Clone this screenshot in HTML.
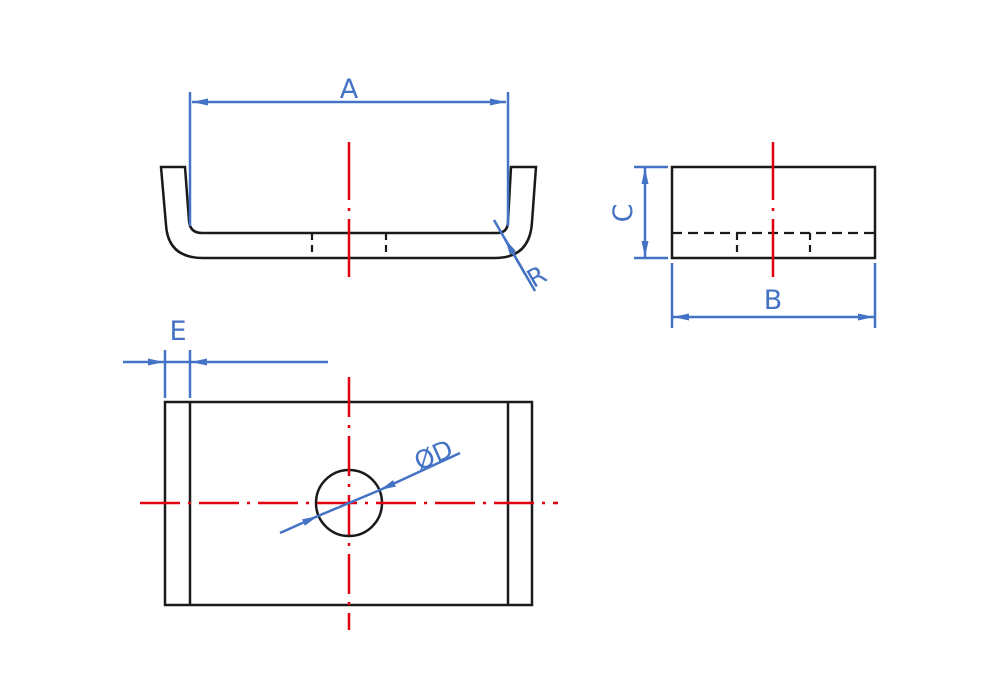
<!DOCTYPE html>
<html><head><meta charset="utf-8"><style>html,body{margin:0;padding:0;background:#fff}svg{display:block}text{font-family:"DejaVu Sans","Liberation Sans",sans-serif;font-weight:normal;fill:#4472c4}</style></head>
<body>
<svg width="1000" height="700" viewBox="0 0 1000 700" xmlns="http://www.w3.org/2000/svg">
<defs>
<marker id="ar" viewBox="0 0 16 8" refX="16" refY="4" markerWidth="16" markerHeight="8" markerUnits="userSpaceOnUse" orient="auto"><path d="M0,0.5 L16,4 L0,7.5 Z" fill="#4472c4"/></marker>
</defs>
<g fill="none" stroke="#1a1a1a" stroke-width="2.5">
<path d="M161,167 L185,167 L189,221 Q190,233 202,233 L497,233 Q508,233 508,221 L511,167 L536,167 L532,222 Q530,258 495,258 L203,258 Q168,258 166,225 Z"/>
<rect x="672" y="167" width="203" height="91"/>
<rect x="165" y="402" width="367" height="203"/>
<line x1="190" y1="402" x2="190" y2="605"/>
<line x1="508" y1="402" x2="508" y2="605"/>
<circle cx="349" cy="503" r="33"/>
</g>
<g stroke="#1a1a1a" stroke-width="2.2" stroke-dasharray="7,5" fill="none">
<line x1="312" y1="233" x2="312" y2="258"/>
<line x1="386" y1="233" x2="386" y2="258"/>
<line x1="672" y1="233" x2="875" y2="233" stroke-dasharray="10,6"/>
<line x1="737" y1="233" x2="737" y2="258"/>
<line x1="810" y1="233" x2="810" y2="258"/>
</g>
<g stroke="#e0000f" stroke-width="2.5" fill="none">
<line x1="349" y1="142" x2="349" y2="283" stroke-dasharray="58,8,3,8"/>
<line x1="773" y1="142" x2="773" y2="283" stroke-dasharray="58,8,3,8"/>
<line x1="349" y1="377" x2="349" y2="630" stroke-dasharray="40,8,3,8"/>
<line x1="140" y1="503" x2="558" y2="503" stroke-dasharray="40,8,3,8"/>
</g>
<g stroke="#4472c4" stroke-width="2.5" fill="none">
<line x1="190" y1="92" x2="190" y2="226"/>
<line x1="508" y1="92" x2="508" y2="226"/>
<line x1="349" y1="102" x2="506" y2="102" marker-end="url(#ar)"/>
<line x1="349" y1="102" x2="192" y2="102" marker-end="url(#ar)"/>
<line x1="494" y1="220" x2="535" y2="291"/>
<line x1="525" y1="274" x2="505" y2="239" marker-end="url(#ar)"/>
<line x1="634" y1="167" x2="668" y2="167"/>
<line x1="634" y1="258" x2="668" y2="258"/>
<line x1="645" y1="212" x2="645" y2="168" marker-end="url(#ar)"/>
<line x1="645" y1="212" x2="645" y2="257" marker-end="url(#ar)"/>
<line x1="672" y1="263" x2="672" y2="328"/>
<line x1="875" y1="263" x2="875" y2="328"/>
<line x1="773" y1="317" x2="673" y2="317" marker-end="url(#ar)"/>
<line x1="773" y1="317" x2="874" y2="317" marker-end="url(#ar)"/>
<line x1="165" y1="350" x2="165" y2="398"/>
<line x1="190" y1="350" x2="190" y2="398"/>
<line x1="123" y1="362" x2="164" y2="362" marker-end="url(#ar)"/>
<line x1="328" y1="362" x2="191" y2="362" marker-end="url(#ar)"/>
<line x1="165" y1="362" x2="190" y2="362"/>
<line x1="280" y1="533" x2="318" y2="516" marker-end="url(#ar)"/>
<line x1="318" y1="516" x2="380" y2="490"/>
<line x1="460" y1="453" x2="380" y2="490" marker-end="url(#ar)"/>
</g>
<text x="349" y="98" font-size="27" text-anchor="middle">A</text>
<text x="773" y="309" font-size="27" text-anchor="middle">B</text>
<text transform="translate(632,213) rotate(-90)" font-size="27" text-anchor="middle">C</text>
<text x="178" y="340" font-size="27" text-anchor="middle">E</text>
<text transform="translate(541,284) rotate(-30)" font-size="25" text-anchor="middle">R</text>
<text transform="translate(437,463) rotate(-24)" font-size="25" text-anchor="middle">ØD</text>
</svg>
</body></html>
